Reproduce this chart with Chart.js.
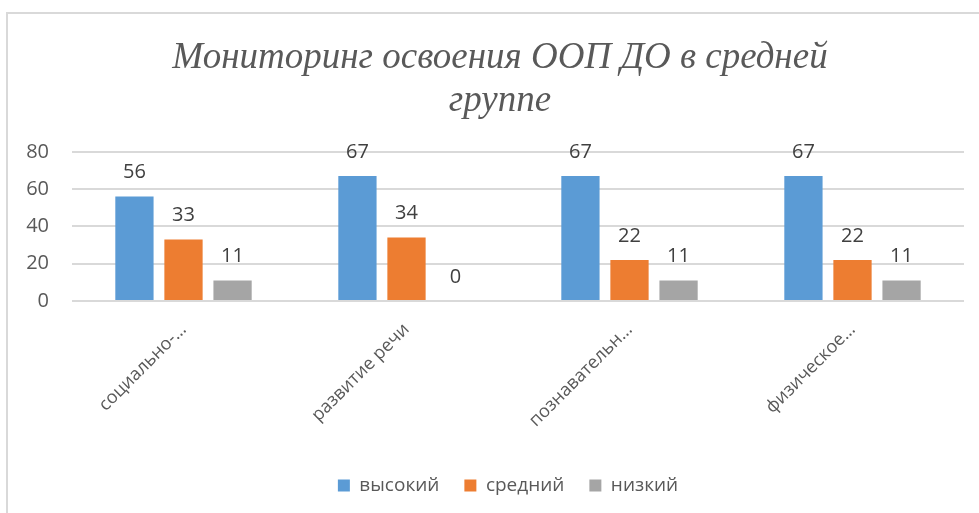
<!DOCTYPE html>
<html>
<head>
<meta charset="utf-8">
<script src="https://cdn.jsdelivr.net/npm/chart.js@4"></script>
<style>
html,body{margin:0;padding:0;background:#fff;}
#wrap{position:relative;width:979px;height:513px;}
</style>
</head>
<body>
<div id="wrap"><canvas id="c" width="979" height="513"></canvas></div>
<script>
const categories = ["социально-…", "развитие речи", "познавательн…", "физическое…"];
const seriesNames = ["высокий", "средний", "низкий"];
const high = [56, 67, 67, 67];
const mid = [33, 34, 22, 22];
const low = [11, 0, 11, 11];
const yTicks = [0, 20, 40, 60, 80];
const titleLines = ["Мониторинг освоения ООП ДО в средней", "группе"];
const colors = ["#5B9BD5", "#ED7D31", "#A5A5A5"];

const frame = {
  id: 'frame',
  beforeDraw(chart) {
    const ctx = chart.ctx;
    ctx.save();
    ctx.fillStyle = '#fff';
    ctx.fillRect(0, 0, chart.width, chart.height);
    ctx.strokeStyle = '#d9d9d9';
    ctx.lineWidth = 2;
    ctx.beginPath();
    ctx.moveTo(7, 513);
    ctx.lineTo(7, 13);
    ctx.lineTo(979, 13);
    ctx.stroke();
    ctx.restore();
  }
};

// shift title and legend boxes horizontally to match the reference's centering
const boxShift = {
  id: 'boxShift',
  afterLayout(chart) {
    const t = chart.titleBlock;
    if (t) { t.left += 18; t.right += 18; }
    const l = chart.legend;
    if (l) { l.left += 26; l.right += 26; }
  }
};

const valueLabels = {
  id: 'valueLabels',
  afterDatasetsDraw(chart) {
    const ctx = chart.ctx;
    ctx.save();
    ctx.font = '20px "Open Sans"';
    ctx.fillStyle = '#404040';
    ctx.textAlign = 'center';
    ctx.textBaseline = 'middle';
    chart.data.datasets.forEach((ds, i) => {
      chart.getDatasetMeta(i).data.forEach((el, j) => {
        ctx.fillText(String(ds.data[j]), el.x, el.y - 24);
      });
    });
    ctx.restore();
  }
};

new Chart(document.getElementById('c'), {
  type: 'bar',
  data: {
    labels: categories,
    datasets: [
      { label: seriesNames[0], data: high, backgroundColor: colors[0] },
      { label: seriesNames[1], data: mid, backgroundColor: colors[1] },
      { label: seriesNames[2], data: low, backgroundColor: colors[2] }
    ]
  },
  options: {
    responsive: false,
    animation: false,
    devicePixelRatio: 1,
    categoryPercentage: 0.66,
    barPercentage: 0.78,
    layout: { padding: { top: 25, left: 0, right: 15, bottom: 8 } },
    plugins: {
      title: {
        display: true,
        text: titleLines,
        color: '#595959',
        font: { family: '"Liberation Serif"', style: 'italic', size: 37, weight: 'normal', lineHeight: 1.16 },
        padding: { top: 12, bottom: 29 }
      },
      legend: {
        position: 'bottom',
        labels: {
          boxWidth: 12, boxHeight: 12, padding: 25,
          color: '#595959',
          font: { family: '"Open Sans"', size: 19 }
        }
      },
      tooltip: { enabled: false }
    },
    scales: {
      x: {
        grid: { display: false },
        border: { display: false },
        ticks: {
          minRotation: 45, maxRotation: 45, autoSkip: false,
          padding: 10,
          color: '#595959',
          font: { family: '"Open Sans"', size: 18 }
        },
        afterFit(s) { s.height = 150; }
      },
      y: {
        min: 0, max: 80,
        afterBuildTicks(s) { s.ticks = yTicks.map(v => ({ value: v })); },
        grid: { color: '#d9d9d9', lineWidth: 2, drawTicks: false },
        border: { display: false },
        ticks: {
          padding: 23,
          color: '#595959',
          font: { family: '"Open Sans"', size: 20 }
        },
        afterFit(s) { s.width = 72; }
      }
    }
  },
  plugins: [frame, boxShift, valueLabels]
});
</script>
</body>
</html>
